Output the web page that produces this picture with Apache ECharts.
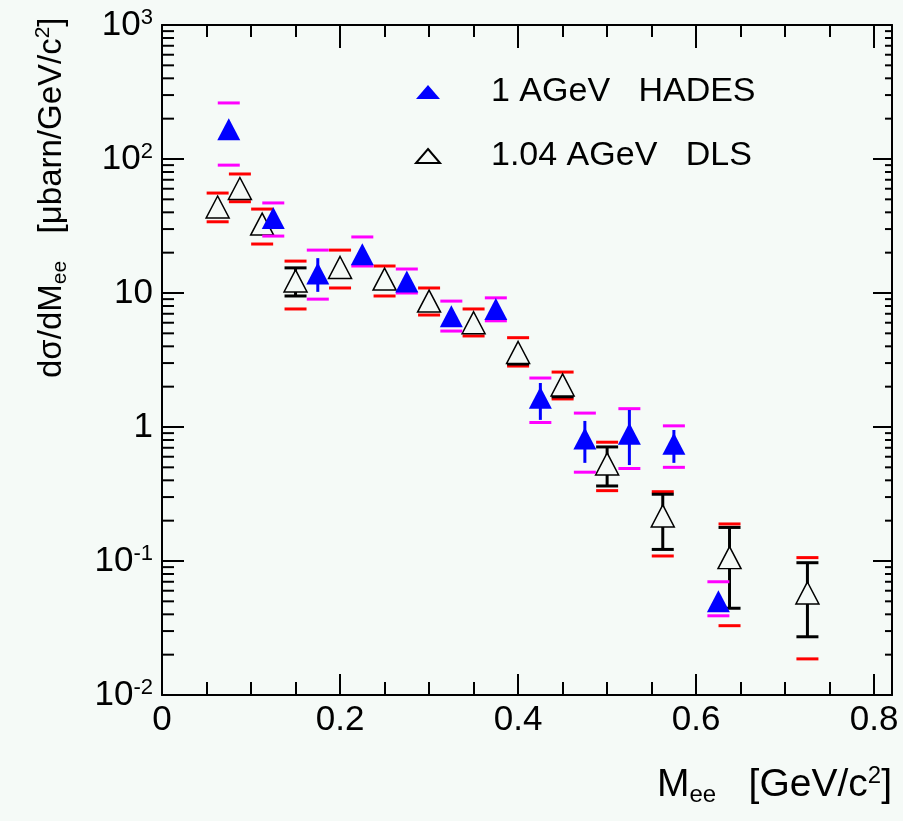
<!DOCTYPE html>
<html><head><meta charset="utf-8">
<script src="https://cdn.jsdelivr.net/npm/echarts@6/dist/echarts.min.js"></script>
<style>html,body{margin:0;padding:0;background:#f5faf7;}#c{width:903px;height:821px;}</style>
</head><body><div id="c"></div>
<script>
// ---- data ----
const hadesX      = [0.075, 0.125, 0.175, 0.225, 0.275, 0.325, 0.375, 0.425, 0.475, 0.525, 0.575, 0.625];
const hadesY      = [167, 36.3, 14.0, 19.5, 12.2, 6.7, 7.6, 1.65, 0.82, 0.89, 0.75, 0.050];
const hadesSysHi  = [262, 47.0, 20.9, 26.2, 15.1, 8.7, 9.2, 2.32, 1.27, 1.37, 1.02, 0.070];
const hadesSysLo  = [90, 26.6, 9.0, 15.9, 10.0, 5.2, 6.2, 1.08, 0.46, 0.49, 0.50, 0.039];
const hadesStatHi = [null, null, 18.2, null, null, null, null, 2.13, 1.11, 1.34, 0.95, null];
const hadesStatLo = [null, null, 10.2, null, null, null, null, 1.13, 0.54, 0.52, 0.54, null];

const dlsX      = [0.0625, 0.0875, 0.1125, 0.15, 0.2, 0.25, 0.3, 0.35, 0.4, 0.45, 0.5, 0.5625, 0.6375, 0.725];
const dlsY      = [43.8, 60.2, 32.7, 12.3, 15.5, 12.7, 8.7, 6.0, 3.6, 2.06, 0.53, 0.217, 0.106, 0.0577];
const dlsSysHi  = [55.7, 77.3, 42.3, 17.3, 20.9, 15.9, 10.9, 7.6, 4.64, 2.57, 0.77, 0.329, 0.189, 0.106];
const dlsSysLo  = [34.0, 48.0, 23.2, 7.6, 10.9, 9.5, 6.85, 4.78, 2.85, 1.62, 0.335, 0.109, 0.0329, 0.0186];
const dlsStatHi = [null, null, null, 15.4, null, null, null, null, null, null, 0.71, 0.315, 0.178, 0.0971];
const dlsStatLo = [null, null, null, 9.5, null, null, null, null, 2.95, 1.68, 0.363, 0.122, 0.0444, 0.0272];

const seriesNames = ['1 AGeV   HADES', '1.04 AGeV   DLS'];
const xMin = 0, xMax = 0.82, xStep = 0.2;
const yMin = 0.01, yMax = 1000;
const yDecades = [0.01, 0.1, 1, 10, 100];
const yMinorMantissas = [2, 3, 4, 5, 6, 7, 8, 9];

// ---- styling ----
const BG = '#f5faf7';
const FONT = 'Liberation Sans, Arial, Helvetica, sans-serif';
const FS = 35;

const yMinorVals = [];
yDecades.forEach(d => yMinorMantissas.forEach(m => yMinorVals.push(m * d)));

function capRect(cx, cy, w, h, color) {
  return {type: 'rect', shape: {x: cx - w / 2, y: cy - h / 2, width: w, height: h}, style: {fill: color}};
}
function sysSeries(xs, his, los, color, z) {
  return {
    type: 'custom', silent: true, z: z,
    data: xs.map((x, i) => [x, his[i], los[i]]),
    encode: {x: 0, y: [1, 2]},
    renderItem: (params, api) => {
      const x = api.value(0);
      const a = api.coord([x, api.value(1)]);
      const b = api.coord([x, api.value(2)]);
      return {type: 'group', children: [capRect(a[0], a[1], 22, 3, color), capRect(b[0], b[1], 22, 3, color)]};
    }
  };
}
function statSeries(xs, ys, his, los, color, caps, z) {
  return {
    type: 'custom', silent: true, z: z,
    data: xs.map((x, i) => [x, ys[i], his[i] != null ? his[i] : ys[i], los[i] != null ? los[i] : ys[i]]),
    encode: {x: 0, y: [1, 2, 3]},
    renderItem: (params, api) => {
      const i = params.dataIndex;
      const x = api.value(0);
      const c = api.coord([x, api.value(1)]);
      const kids = [];
      if (his[i] != null) {
        const h = api.coord([x, api.value(2)]);
        kids.push({type: 'line', shape: {x1: c[0], y1: c[1], x2: h[0], y2: h[1]}, style: {stroke: color, lineWidth: 3}});
        if (caps) kids.push(capRect(h[0], h[1], 22, 3, color));
      }
      if (los[i] != null) {
        const l = api.coord([x, api.value(3)]);
        kids.push({type: 'line', shape: {x1: c[0], y1: c[1], x2: l[0], y2: l[1]}, style: {stroke: color, lineWidth: 3}});
        if (caps) kids.push(capRect(l[0], l[1], 22, 3, color));
      }
      return {type: 'group', children: kids};
    }
  };
}

function yLabel(v) {
  const e = Math.round(Math.log10(v));
  if (e === 0) return '1';
  if (e === 1) return '10';
  return '10{sup|' + e + '}';
}

const chart = echarts.init(document.getElementById('c'), null, {renderer: 'canvas'});
const option = {
  backgroundColor: BG,
  animation: false,
  textStyle: {fontFamily: FONT},
  grid: {left: 162, right: 11, top: 25, bottom: 126, containLabel: false},
  legend: {
    orient: 'vertical', left: 410, top: 70, itemWidth: 24, itemHeight: 14, itemGap: 30,
    textStyle: {fontSize: 34, color: '#000', fontFamily: FONT, padding: [0, 0, 0, 46]},
    data: [{name: seriesNames[0], icon: 'triangle'}, {name: seriesNames[1], icon: 'triangle'}]
  },
  xAxis: [
    {type: 'value', min: xMin, max: xMax, interval: xStep, position: 'bottom',
     axisLine: {show: true, onZero: false, lineStyle: {color: '#000', width: 2}},
     axisTick: {show: true, inside: true, length: 21, lineStyle: {color: '#000', width: 2}},
     minorTick: {show: true, splitNumber: 4, length: 13, lineStyle: {color: '#000', width: 2}},
     splitLine: {show: false},
     axisLabel: {show: true, showMaxLabel: false, margin: 8, fontSize: FS, color: '#000', fontFamily: FONT,
                 formatter: v => String(Math.round(v * 10) / 10)}},
    {type: 'value', min: xMin, max: xMax, interval: xStep, position: 'top',
     axisLine: {show: true, onZero: false, lineStyle: {color: '#000', width: 2}},
     axisTick: {show: true, inside: true, length: 23, lineStyle: {color: '#000', width: 2}},
     minorTick: {show: true, splitNumber: 4, length: 12, lineStyle: {color: '#000', width: 2}},
     splitLine: {show: false}, axisLabel: {show: false}}
  ],
  yAxis: [
    {type: 'log', logBase: 10, min: yMin, max: yMax, splitNumber: 5, position: 'left',
     axisLine: {show: true, onZero: false, lineStyle: {color: '#000', width: 2}},
     axisTick: {show: true, inside: true, length: 22, lineStyle: {color: '#000', width: 2}},
     splitLine: {show: false},
     axisLabel: {show: true, margin: 9, fontSize: FS, color: '#000', fontFamily: FONT, formatter: yLabel,
                 rich: {sup: {fontSize: 22, verticalAlign: 'top', padding: [0, 0, 15, 0], color: '#000', fontFamily: FONT}}}},
    {type: 'log', logBase: 10, min: yMin, max: yMax, splitNumber: 5, position: 'right',
     axisLine: {show: true, onZero: false, lineStyle: {color: '#000', width: 2}},
     axisTick: {show: true, inside: true, length: 19, lineStyle: {color: '#000', width: 2}},
     splitLine: {show: false}, axisLabel: {show: false}}
  ],
  graphic: [
    {type: 'text', right: 11, top: 764, z: 10,
     style: {text: 'M{sub|ee}   [GeV/c{sup|2}]', fontSize: 39, fill: '#000', fontFamily: FONT,
             rich: {sub: {fontSize: 24, padding: [19, 0, 0, 0], fontFamily: FONT}, sup: {fontSize: 24, padding: [0, 0, 19, 0], fontFamily: FONT}}}},
    {type: 'text', x: 33, y: 378, rotation: Math.PI / 2, z: 10,
     style: {text: 'dσ/dM{sub|ee}   [μbarn/GeV/c{sup|2}]', fontSize: 33, fill: '#000', fontFamily: FONT,
             align: 'left', verticalAlign: 'top',
             rich: {sub: {fontSize: 21, padding: [17, 0, 0, 0], fontFamily: FONT}, sup: {fontSize: 21, padding: [0, 0, 17, 0], fontFamily: FONT}}}}
  ],
  series: [
    // minor log ticks on left and right frame
    {type: 'custom', silent: true, z: 1, xAxisIndex: 0, yAxisIndex: 0,
     data: yMinorVals.map(v => [xMin, v]), encode: {x: 0, y: 1},
     renderItem: (params, api) => {
       const p = api.coord([xMin, api.value(1)]);
       const cs = params.coordSys;
       const xr = cs.x + cs.width;
       return {type: 'group', children: [
         {type: 'line', shape: {x1: cs.x, y1: p[1], x2: cs.x + 12, y2: p[1]}, style: {stroke: '#000', lineWidth: 2}},
         {type: 'line', shape: {x1: xr - 7, y1: p[1], x2: xr, y2: p[1]}, style: {stroke: '#000', lineWidth: 2}}
       ]};
     }},
    sysSeries(dlsX, dlsSysHi, dlsSysLo, '#ff0000', 2),
    statSeries(dlsX, dlsY, dlsStatHi, dlsStatLo, '#000000', true, 3),
    {name: seriesNames[1], type: 'scatter', z: 4, symbol: 'triangle', symbolSize: [23, 22],
     data: dlsX.map((x, i) => [x, dlsY[i]]),
     itemStyle: {color: BG, borderColor: '#000', borderWidth: 1.5, opacity: 1}},
    sysSeries(hadesX, hadesSysHi, hadesSysLo, '#ff00ff', 5),
    statSeries(hadesX, hadesY, hadesStatHi, hadesStatLo, '#0000ff', false, 6),
    {name: seriesNames[0], type: 'scatter', z: 7, symbol: 'triangle', symbolSize: [23, 22],
     data: hadesX.map((x, i) => [x, hadesY[i]]),
     itemStyle: {color: '#0000ff', opacity: 1}}
  ]
};
chart.setOption(option);
</script>
</body></html>
